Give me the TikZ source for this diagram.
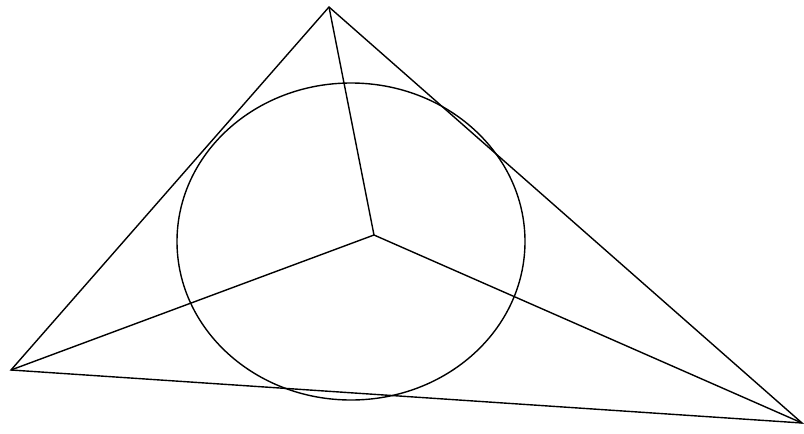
\documentclass[tikz,border=0pt]{standalone}
\begin{document}
\begin{tikzpicture}[x=1pt,y=-1pt,line width=1.4pt,
  edge/.style={draw=black,line join=miter}]
\useasboundingbox (0,0) rectangle (804,434);
\coordinate (A) at (329,7);
\coordinate (B) at (11,370);
\coordinate (C) at (802,423);
\coordinate (O) at (374,235);
\draw[edge] (A) -- (B) -- (C) -- cycle;
\draw[edge] (O) -- (A);
\draw[edge] (O) -- (B);
\draw[edge] (O) -- (C);
\draw[edge] (351,241.5) ellipse [x radius=174, y radius=158.5];
\end{tikzpicture}
\end{document}
